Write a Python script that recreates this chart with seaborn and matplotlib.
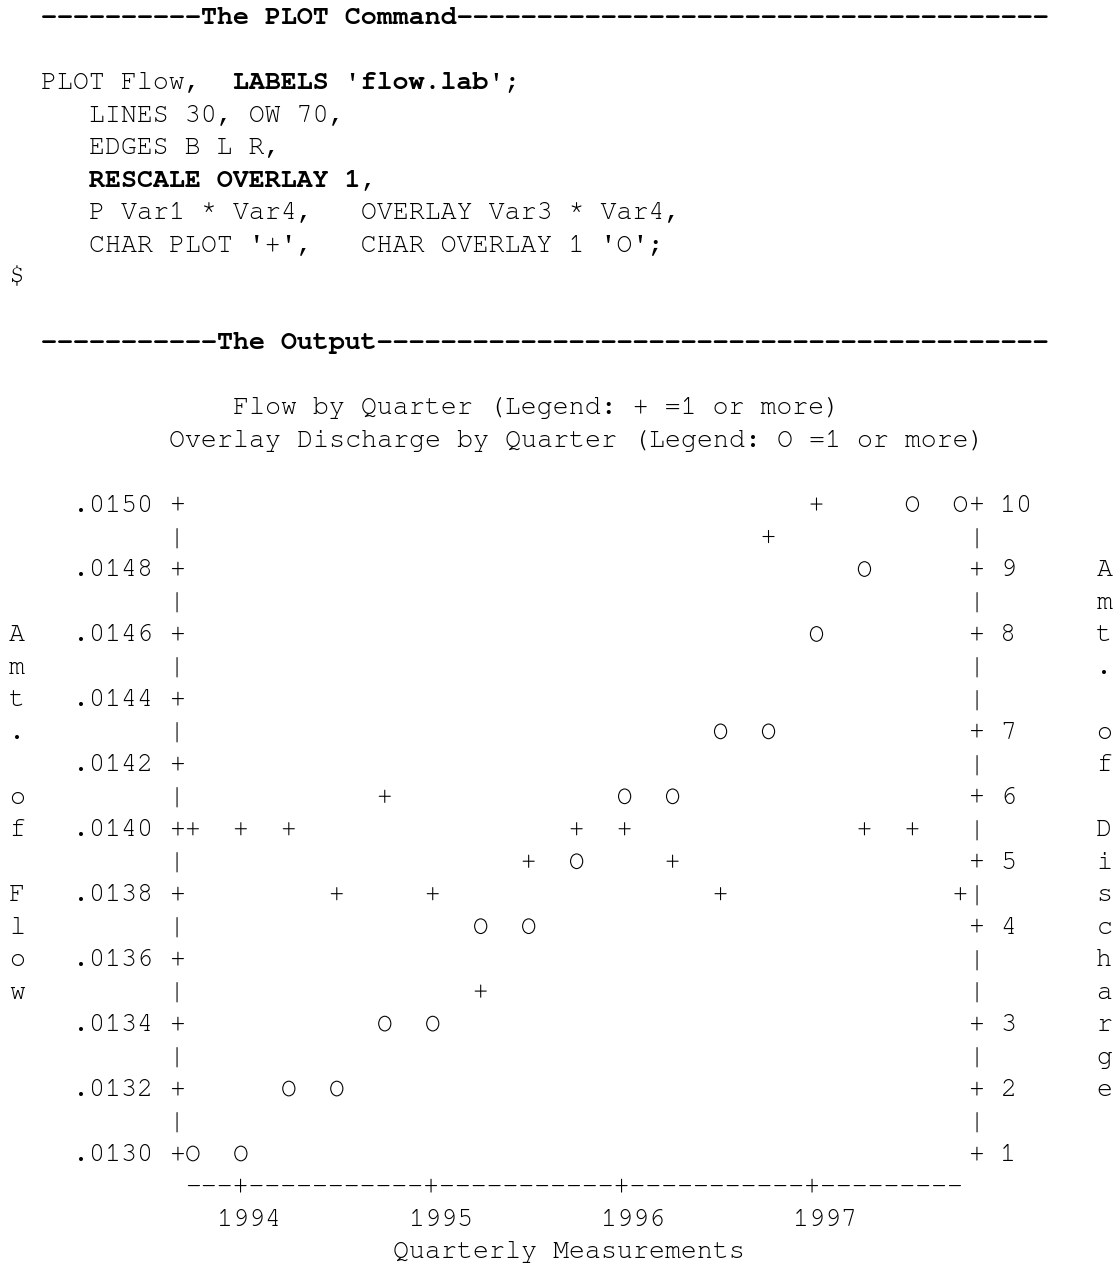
import numpy as np
import matplotlib
matplotlib.use("Agg")
import matplotlib.pyplot as plt
import seaborn as sns
from matplotlib.textpath import TextPath
from matplotlib.font_manager import FontProperties
from matplotlib.path import Path

# ------------------------------------------------------------------ data
quarters = [1993.75, 1994.00, 1994.25, 1994.50, 1994.75, 1995.00, 1995.25, 1995.50,
            1995.75, 1996.00, 1996.25, 1996.50, 1996.75, 1997.00, 1997.25, 1997.50,
            1997.75]
flow = [0.0140, 0.0140, 0.0140, 0.0138, 0.0141, 0.0138, 0.0135, 0.0139,
        0.0140, 0.0140, 0.0139, 0.0138, 0.0149, 0.0150, 0.0140, 0.0140,
        0.0138]
discharge = [1, 1, 2, 2, 3, 3, 4, 4, 5, 6, 6, 7, 7, 8, 9, 10, 10]

year_ticks = [1994, 1995, 1996, 1997]
year_labels = ["1994", "1995", "1996", "1997"]
flow_ticks = [0.0150, 0.0148, 0.0146, 0.0144, 0.0142, 0.0140,
              0.0138, 0.0136, 0.0134, 0.0132, 0.0130]
flow_labels = [".0150", ".0148", ".0146", ".0144", ".0142", ".0140",
               ".0138", ".0136", ".0134", ".0132", ".0130"]
discharge_ticks = [10, 9, 8, 7, 6, 5, 4, 3, 2, 1]

title_flow = "Flow by Quarter (Legend: + =1 or more)"
title_overlay = "Overlay Discharge by Quarter (Legend: O =1 or more)"
x_label = "Quarterly Measurements"
y_label = "Amt. of Flow"
y2_label = "Amt. of Discharge"
plot_char = "+"
overlay_char = "O"

# command listing: (row, column, text, bold)
listing = [
    (0, 2, "----------The PLOT Command-------------------------------------", True),
    (2, 2, "PLOT Flow,", False),
    (2, 14, "LABELS 'flow.lab'", True),
    (2, 31, ";", False),
    (3, 5, "LINES 30, OW 70,", False),
    (4, 5, "EDGES B L R,", False),
    (5, 5, "RESCALE OVERLAY 1", True),
    (5, 22, ",", False),
    (6, 5, "P Var1 * Var4,   OVERLAY Var3 * Var4,", False),
    (7, 5, "CHAR PLOT '+',   CHAR OVERLAY 1 'O';", False),
    (8, 0, "$", False),
    (10, 2, "-----------The Output------------------------------------------", True),
]

# ------------------------------------------------------------------ page grid
W, H, DPI = 1117, 1267, 100
CW = 15.99          # character cell width (px)
LH = 32.47          # line pitch (px)
X0 = 17.0           # centre of column 0 (px)
Y0 = 16.5           # centre of row 0 (px from top)
EM_PX = CW / 0.6
FS_PT = EM_PX * 72.0 / DPI
BASE_EM = 0.30      # cell centre sits this far above the baseline (em)
MONO = ["FreeMono", "Liberation Mono", "DejaVu Sans Mono"]

# plot frame in character cells
TOP, BOTTOM = 15, 35
LEFT_EDGE, RIGHT_EDGE = 10, 60
X_FIRST, X_LAST = 11, 59
COLS_PER_YEAR = 12

fmax, fmin = max(flow_ticks), min(flow_ticks)
dmax, dmin = max(discharge_ticks), min(discharge_ticks)
NROWS = BOTTOM - TOP


def flow_row(v):
    return int(round(TOP + (fmax - v) / (fmax - fmin) * NROWS))


def discharge_row(d):
    return int(round(TOP + (dmax - d) / (dmax - dmin) * NROWS))


def year_col(q):
    return int(round(X_FIRST + (q - quarters[0]) * COLS_PER_YEAR))


def col_to_year(c):
    return quarters[0] + (c - X_FIRST) / COLS_PER_YEAR


def row_to_flow(r):
    return fmax - (r - TOP) / NROWS * (fmax - fmin)


def row_to_discharge(r):
    return dmax - (r - TOP) / NROWS * (dmax - dmin)


sns.set_theme(style="white")
plt.rcParams["font.family"] = MONO

fig = plt.figure(figsize=(W / DPI, H / DPI), dpi=DPI, facecolor="white")

# page axes in (column, row) units
page = fig.add_axes([0, 0, 1, 1])
page.set_xlim(-X0 / CW, (W - X0) / CW)
page.set_ylim((H - Y0) / LH, -Y0 / LH)
page.set_axis_off()

base = BASE_EM * EM_PX / LH


def put(col, row, s, bold=False):
    page.text(col - 0.5, row + base, s, ha="left", va="baseline",
              family=MONO, size=FS_PT, weight="bold" if bold else "normal",
              color="black")


for row, col, s, bold in listing:
    put(col, row, s, bold)

# two-line heading above the frame
put(14, 12, title_flow)
put(10, 13, title_overlay)

# left edge with flow ticks
flow_tick_rows = {flow_row(v): lab for v, lab in zip(flow_ticks, flow_labels)}
for r in range(TOP, BOTTOM + 1):
    if r in flow_tick_rows:
        lab = flow_tick_rows[r]
        put(LEFT_EDGE - 1 - len(lab), r, lab)
        put(LEFT_EDGE, r, "+")
    else:
        put(LEFT_EDGE, r, "|")

# right edge with discharge ticks
dis_tick_rows = {discharge_row(d): str(d) for d in discharge_ticks}
for r in range(TOP, BOTTOM + 1):
    if r in dis_tick_rows:
        put(RIGHT_EDGE, r, "+")
        put(RIGHT_EDGE + 2, r, dis_tick_rows[r])
    else:
        put(RIGHT_EDGE, r, "|")

# bottom edge with year ticks
tick_cols = [year_col(y) for y in year_ticks]
axis_str = "".join("+" if c in tick_cols else "-" for c in range(X_FIRST, X_LAST + 1))
put(X_FIRST, BOTTOM + 1, axis_str)
for c, lab in zip(tick_cols, year_labels):
    put(c - 1, BOTTOM + 2, lab)
put(24, BOTTOM + 3, x_label)

# vertical axis titles, one character per row
for i, ch in enumerate(y_label):
    if ch != " ":
        put(0, 19 + i, ch)
for i, ch in enumerate(y2_label):
    if ch != " ":
        put(68, 17 + i, ch)

# ------------------------------------------------------------------ data axes
ax = fig.add_axes([0, 0, 1, 1])
ax.patch.set_visible(False)
ax2 = ax.twinx()
ax2.patch.set_visible(False)


def glyph_marker(ch):
    """Glyph outline as a marker path whose origin is the centre of its cell."""
    tp = TextPath((0, 0), ch, size=FS_PT, prop=FontProperties(family=MONO))
    verts = tp.vertices.copy()
    verts[:, 0] -= 0.3 * FS_PT
    verts[:, 1] -= BASE_EM * FS_PT
    return Path(verts, tp.codes), 2.0 * np.abs(verts).max()


plus_path, plus_size = glyph_marker(plot_char)
o_path, o_size = glyph_marker(overlay_char)

flow_plot = [row_to_flow(flow_row(v)) for v in flow]
discharge_plot = [row_to_discharge(discharge_row(d)) for d in discharge]

sns.scatterplot(x=quarters, y=flow_plot, marker=plus_path, s=plus_size ** 2,
                color="black", edgecolor="none", linewidth=0, legend=False, ax=ax)
sns.scatterplot(x=quarters, y=discharge_plot, marker=o_path, s=o_size ** 2,
                color="black", edgecolor="none", linewidth=0, legend=False, ax=ax2)

c_left, c_right = -X0 / CW, (W - X0) / CW
r_bottom, r_top = (H - Y0) / LH, -Y0 / LH
ax.set_xlim(col_to_year(c_left), col_to_year(c_right))
ax2.set_xlim(col_to_year(c_left), col_to_year(c_right))
ax.set_ylim(row_to_flow(r_bottom), row_to_flow(r_top))
ax2.set_ylim(row_to_discharge(r_bottom), row_to_discharge(r_top))
ax.set_axis_off()
ax2.set_axis_off()

fig.savefig("out.png", dpi=DPI, facecolor="white")
